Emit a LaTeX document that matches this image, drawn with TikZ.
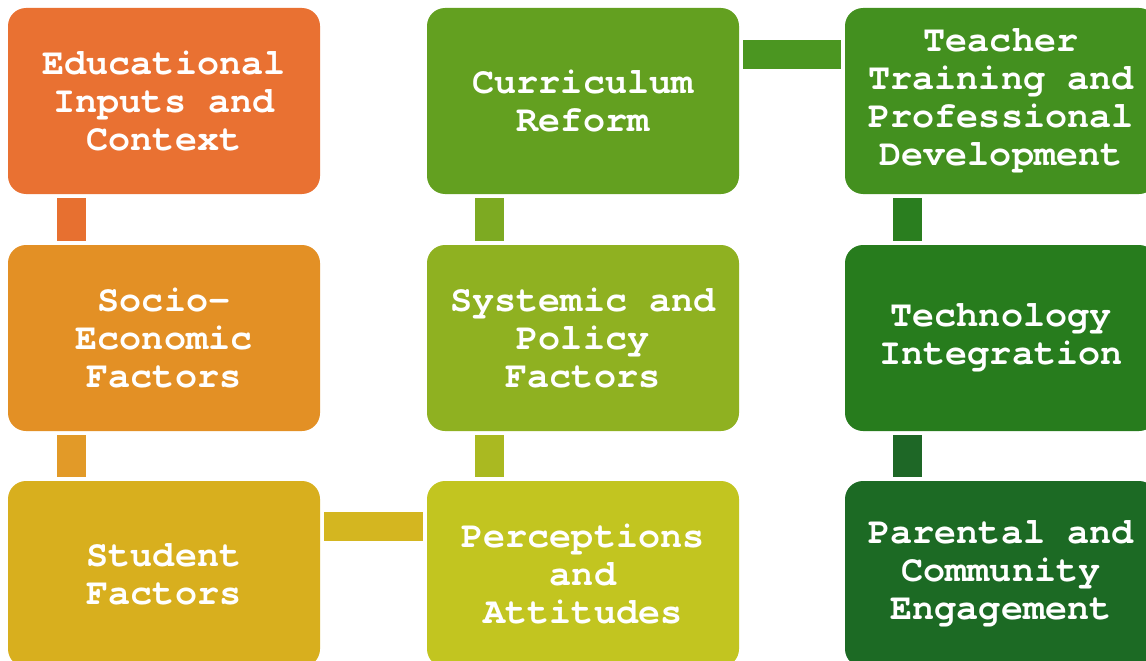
\documentclass[tikz,border=0pt]{standalone}
\usepackage{fontspec}
\setmonofont{texgyrecursor}[Extension=.otf,UprightFont=*-regular,BoldFont=*-bold]
% box fills, orange to dark green
\definecolor{c1}{HTML}{E97132}
\definecolor{c2}{HTML}{E39025}
\definecolor{c3}{HTML}{D8AF1E}
\definecolor{c4}{HTML}{C2C520}
\definecolor{c5}{HTML}{8FB121}
\definecolor{c6}{HTML}{63A020}
\definecolor{c7}{HTML}{43901F}
\definecolor{c8}{HTML}{277C1D}
\definecolor{c9}{HTML}{1C6A24}
% links between boxes
\definecolor{l1}{HTML}{E77030}
\definecolor{l2}{HTML}{E29A28}
\definecolor{l3}{HTML}{D4B620}
\definecolor{l4}{HTML}{AAB921}
\definecolor{l5}{HTML}{7DAA22}
\definecolor{l6}{HTML}{4B9621}
\definecolor{l7}{HTML}{2A7E1F}
\definecolor{l8}{HTML}{1E6726}

\begin{document}
\begin{tikzpicture}
[x=1pt,y=-1pt,
 box/.style={rounded corners=18pt,minimum width=312pt,minimum height=186pt,inner sep=0pt,
   align=center,text=white,font=\ttfamily\bfseries\fontsize{36.8}{38}\selectfont},
 link/.style={line width=29pt,shorten <=4pt,shorten >=4pt}]
\useasboundingbox (0,0) rectangle (1146,661);
\clip (0,0) rectangle (1146,661);

\node[box,fill=c1] (edu) at (164,101) {Educational\\Inputs and\\Context};
\node[box,fill=c2] (soc) at (164,338) {Socio-\\Economic\\Factors};
\node[box,fill=c3] (stu) at (164,574) {Student\\Factors};
\node[box,fill=c4] (per) at (583,574) {Perceptions\\and\\Attitudes};
\node[box,fill=c5] (sys) at (583,338) {Systemic and\\Policy\\Factors};
\node[box,fill=c6] (cur) at (583,101) {Curriculum\\Reform};
\node[box,fill=c7] (tea) at (1001,101) {Teacher\\Training and\\Professional\\Development};
\node[box,fill=c8] (tec) at (1001,338) {Technology\\Integration};
\node[box,fill=c9] (par) at (1001,574) {Parental and\\Community\\Engagement};

\draw[link,l1] ([xshift=63.5pt]edu.south west) -- ([xshift=63.5pt]soc.north west);
\draw[link,l2] ([xshift=63.5pt]soc.south west) -- ([xshift=63.5pt]stu.north west);
\draw[link,l3] ([yshift=-45.5pt]stu.north east) -- ([yshift=-45.5pt]per.north west);
\draw[link,l4] ([xshift=62.5pt]per.north west) -- ([xshift=62.5pt]sys.south west);
\draw[link,l5] ([xshift=62.5pt]sys.north west) -- ([xshift=62.5pt]cur.south west);
\draw[link,l6] ([yshift=-46.5pt]cur.north east) -- ([yshift=-46.5pt]tea.north west);
\draw[link,l7] ([xshift=62.5pt]tea.south west) -- ([xshift=62.5pt]tec.north west);
\draw[link,l8] ([xshift=62.5pt]tec.south west) -- ([xshift=62.5pt]par.north west);
\end{tikzpicture}
\end{document}
